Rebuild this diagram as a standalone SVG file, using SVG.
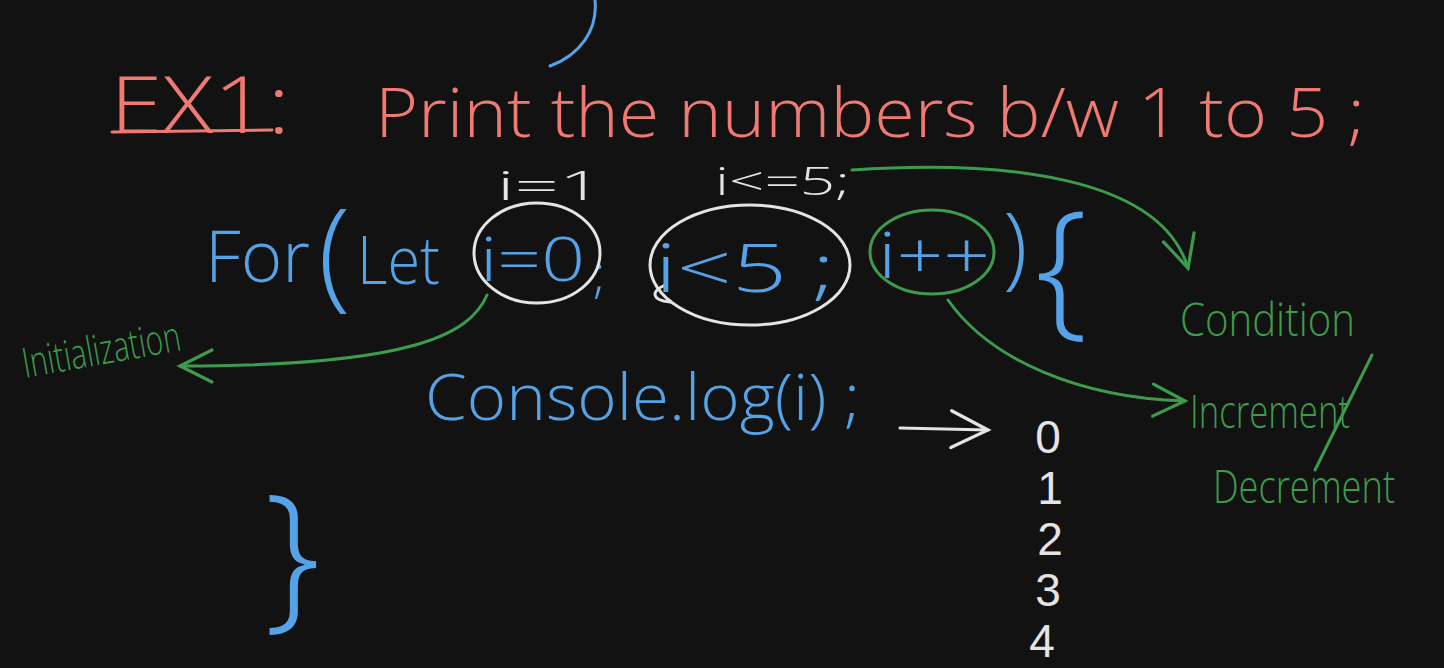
<svg xmlns="http://www.w3.org/2000/svg" width="1444" height="668" viewBox="0 0 1444 668">
<defs>
<style>
.bg{fill:#121212}
.t{font-family:"Open Sans","Liberation Sans",sans-serif;font-weight:300}
.d{font-family:"Liberation Sans","Open Sans",sans-serif}
.red{fill:#f07a72}
.blue{fill:#55a2e6}
.green{fill:#3d9c4c}
.white{fill:#e4e4e4}
.sw{fill:none;stroke:#e4e4e4;stroke-width:3;stroke-linecap:round}
.sg{fill:none;stroke:#3d9c4c;stroke-width:3;stroke-linecap:round}
.sb{fill:none;stroke:#55a2e6;stroke-width:3;stroke-linecap:round}
.sr{fill:none;stroke:#f07a72;stroke-width:3;stroke-linecap:round}
</style>
<marker id="ag" viewBox="0 0 20 20" refX="18" refY="10" markerWidth="40" markerHeight="40" markerUnits="userSpaceOnUse" orient="auto">
<path d="M2,2 L18,10 L2,18" fill="none" stroke="#3d9c4c" stroke-width="1.6" stroke-linecap="round"/>
</marker>
<marker id="aw" viewBox="0 0 20 20" refX="18" refY="10" markerWidth="46" markerHeight="46" markerUnits="userSpaceOnUse" orient="auto">
<path d="M2,2 L18,10 L2,18" fill="none" stroke="#e4e4e4" stroke-width="1.4" stroke-linecap="round"/>
</marker>
</defs>
<rect class="bg" width="1444" height="668"/>
<path class="sb" d="M595,0 C598,30 580,55 550,66"/>
<g id="title">
<text class="t red" x="110" y="133" font-size="80" textLength="180" lengthAdjust="spacingAndGlyphs">EX1:</text>
<path class="sr" d="M112,132 L272,130"/>
<text class="t red" x="375" y="137" font-size="68" textLength="990" lengthAdjust="spacingAndGlyphs">Print the numbers b/w 1 to 5 ;</text>
</g>
<g id="for-loop">
<text class="t blue" x="205" y="282" font-size="72" textLength="105" lengthAdjust="spacingAndGlyphs">For</text>
<text class="t blue" x="318" y="295" font-size="120">(</text>
<text class="t blue" x="357" y="284" font-size="66" textLength="83" lengthAdjust="spacingAndGlyphs">Let</text>
<text class="t blue" x="593" y="292" font-size="52">;</text>
<text class="t blue" x="1003" y="278" font-size="90">)</text>
<text class="t blue" x="1035" y="318" font-size="150">{</text>
</g>
<g id="init">
<ellipse class="sw" cx="537" cy="253" rx="63" ry="50"/>
<text class="t blue" x="480" y="281" font-size="60" textLength="105" lengthAdjust="spacingAndGlyphs">i=0</text>
<text class="t white" x="497" y="200" font-size="40" textLength="106" lengthAdjust="spacingAndGlyphs">i=1</text>
</g>
<g id="cond">
<ellipse class="sw" cx="750" cy="265" rx="100" ry="60"/>
<path class="sw" d="M665,285 C650,292 652,300 670,302"/>
<text class="t blue" x="655" y="292" font-size="66" textLength="180" lengthAdjust="spacingAndGlyphs">i&lt;5 ;</text>
<text class="t white" x="715" y="195" font-size="38" textLength="135" lengthAdjust="spacingAndGlyphs">i&lt;=5;</text>
</g>
<g id="incr">
<ellipse class="sg" cx="932" cy="252" rx="62" ry="42"/>
<text class="t blue" x="878" y="278" font-size="64" textLength="112" lengthAdjust="spacingAndGlyphs">i++</text>
</g>
<g id="body">
<text class="t blue" x="425" y="420" font-size="64" textLength="435" lengthAdjust="spacingAndGlyphs">Console.log(i) ;</text>
<text class="t blue" x="264" y="610" font-size="160">}</text>
</g>
<g id="output">
<text class="d white" x="1048" y="453" font-size="46" text-anchor="middle">0</text>
<text class="d white" x="1050" y="504" font-size="46" text-anchor="middle">1</text>
<text class="d white" x="1050" y="555" font-size="46" text-anchor="middle">2</text>
<text class="d white" x="1048" y="606" font-size="46" text-anchor="middle">3</text>
<text class="d white" x="1042" y="657" font-size="46" text-anchor="middle">4</text>
</g>
<g id="label-init">
<text class="t green" x="25" y="378" font-size="42" textLength="160" lengthAdjust="spacingAndGlyphs" transform="rotate(-10 25 378)">Initialization</text>
</g>
<g id="label-cond">
<text class="t green" x="1180" y="336" font-size="46" textLength="175" lengthAdjust="spacingAndGlyphs">Condition</text>
</g>
<g id="label-incr">
<text class="t green" x="1190" y="428" font-size="46" textLength="160" lengthAdjust="spacingAndGlyphs">Increment</text>
<path class="sg" d="M1372,355 L1315,470"/>
<text class="t green" x="1213" y="503" font-size="46" textLength="182" lengthAdjust="spacingAndGlyphs">Decrement</text>
</g>
<g id="connectors">
<path class="sg" marker-end="url(#ag)" d="M487,295 C470,335 410,366 180,366"/>
<path class="sg" marker-end="url(#ag)" d="M852,170 C1000,160 1160,175 1188,268"/>
<path class="sg" marker-end="url(#ag)" d="M948,300 C990,360 1080,398 1185,401"/>
<path class="sw" marker-end="url(#aw)" d="M900,428 L988,430"/>
</g>
</svg>
